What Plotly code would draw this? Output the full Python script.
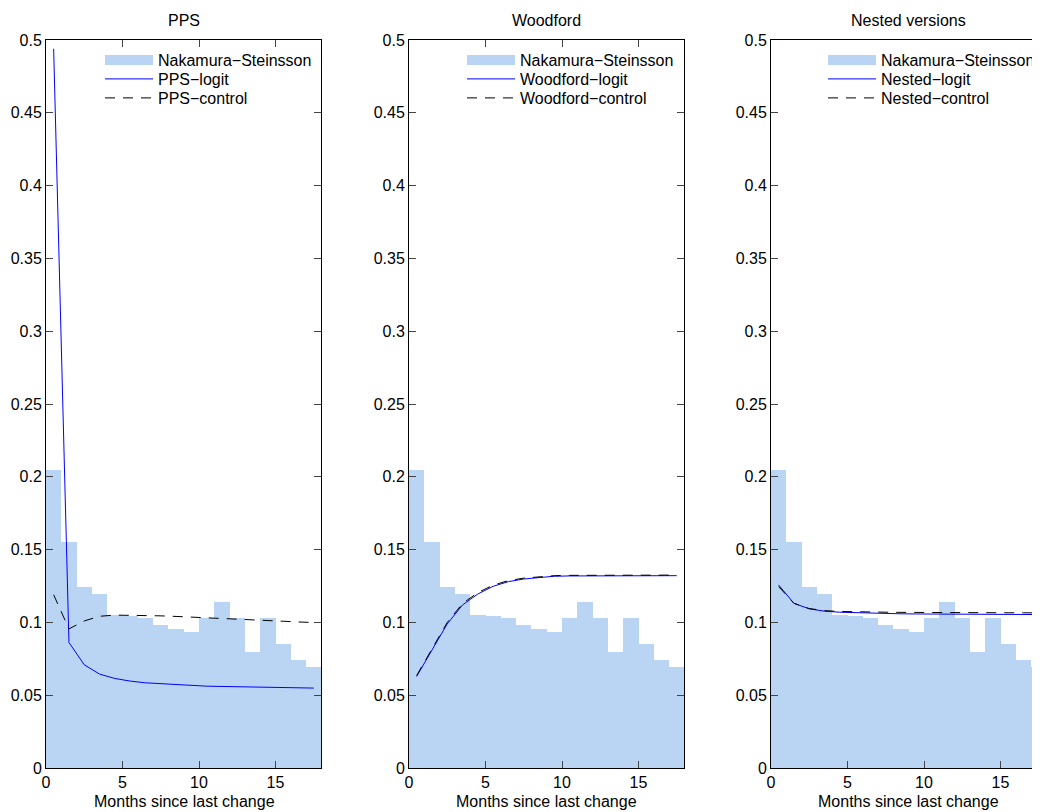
import plotly.graph_objects as go

months = [0.5, 1.5, 2.5, 3.5, 4.5, 5.5, 6.5, 7.5, 8.5, 9.5, 10.5, 11.5, 12.5, 13.5, 14.5, 15.5, 16.5, 17.5]
ns_hazard = [0.205, 0.155, 0.1246, 0.1198, 0.1051, 0.1047, 0.1029, 0.098, 0.0958, 0.0937,
             0.1029, 0.1143, 0.1029, 0.0795, 0.1029, 0.085, 0.0745, 0.0697]

pps_logit = [0.494, 0.0862, 0.0709, 0.0645, 0.0615, 0.0597, 0.0585, 0.0578, 0.0571, 0.0567,
             0.0562, 0.056, 0.0558, 0.0556, 0.0553, 0.0552, 0.0551, 0.0549]
pps_control = [0.119, 0.0955, 0.101, 0.1042, 0.105, 0.105, 0.1048, 0.1045, 0.1041, 0.1037,
               0.1032, 0.1028, 0.1024, 0.1019, 0.1013, 0.1008, 0.1003, 0.0999]

wood_logit = [0.0629, 0.0807, 0.099, 0.112, 0.1195, 0.1248, 0.128, 0.1298, 0.131, 0.1317,
              0.1319, 0.132, 0.1321, 0.1321, 0.1321, 0.1321, 0.1321, 0.1321]
wood_control = [0.0635, 0.0815, 0.1, 0.113, 0.1205, 0.1256, 0.1287, 0.1304, 0.1315, 0.1321,
                0.1323, 0.1324, 0.1325, 0.1325, 0.1325, 0.1325, 0.1325, 0.1325]

nest_logit = [0.1257, 0.1131, 0.1093, 0.1077, 0.107, 0.1066, 0.1063, 0.1061, 0.1059, 0.1058,
              0.1057, 0.1056, 0.1056, 0.1055, 0.1055, 0.1054, 0.1054, 0.1054]
nest_control = [0.1246, 0.1131, 0.1095, 0.1081, 0.1075, 0.1072, 0.1071, 0.107, 0.1069, 0.1068,
                0.1068, 0.1067, 0.1067, 0.1067, 0.1066, 0.1066, 0.1066, 0.1065]

panel_titles = ["PPS", "Woodford", "Nested versions"]
hist_name = "Nakamura\u2212Steinsson"
logit_names = ["PPS\u2212logit", "Woodford\u2212logit", "Nested\u2212logit"]
control_names = ["PPS\u2212control", "Woodford\u2212control", "Nested\u2212control"]
logit_series = [pps_logit, wood_logit, nest_logit]
control_series = [pps_control, wood_control, nest_control]
x_title = "Months since last change"

y_ticks = [0, 0.05, 0.1, 0.15, 0.2, 0.25, 0.3, 0.35, 0.4, 0.45, 0.5]
y_ticktext = ["0", "0.05", "0.1", "0.15", "0.2", "0.25", "0.3", "0.35", "0.4", "0.45", "0.5"]
x_ticks = [0, 5, 10, 15]

BAR = "#bad4f3"
FONT = "Liberation Sans, Arial, Helvetica, sans-serif"
FS = 16
DASH = "10px,8px"

# figure sits inside an 8px page margin
W, H = 1032, 804
ML, MR, MT, MB = 38, 0, 32, 44
PW = W - ML - MR
PH = H - MT - MB
px_per_unit = 15.3

def px2paper(px):
    return (px - ML) / PW

def py2paper(py):
    return 1 - (py - MT) / PH

left_px = [38, 401, 763]
domains = [[px2paper(lp), min(1.0, px2paper(lp + 18 * px_per_unit))] for lp in left_px]
xranges = [[0, 18], [0, 18], [0, (W - 763) / px_per_unit]]

legend_left_px = [92, 454, 815]
row_y = [52, 71, 90]

fig = go.Figure()
layout = dict(
    width=W, height=H,
    margin=dict(l=ML, r=MR, t=MT, b=MB, pad=0),
    paper_bgcolor="white", plot_bgcolor="white",
    font=dict(family=FONT, size=FS, color="black"),
    barmode="overlay", bargap=0,
    showlegend=True,
)

for i in range(3):
    xa = "x" if i == 0 else f"x{i+1}"
    ya = "y" if i == 0 else f"y{i+1}"
    lgs = [f"legend{3*i+k+1}" if (3*i+k) > 0 else "legend" for k in range(3)]
    fig.add_trace(go.Bar(x=months, y=ns_hazard, width=1, marker=dict(color=BAR, line=dict(width=0)),
                         showlegend=False, xaxis=xa, yaxis=ya, hoverinfo="skip"))
    fig.add_trace(go.Scatter(x=[None], y=[None], mode="lines", name=hist_name,
                             line=dict(color=BAR, width=14), xaxis=xa, yaxis=ya, legend=lgs[0]))
    fig.add_trace(go.Scatter(x=months, y=logit_series[i], mode="lines", name=logit_names[i],
                             line=dict(color="#0000ff", width=1), xaxis=xa, yaxis=ya, legend=lgs[1]))
    fig.add_trace(go.Scatter(x=months, y=control_series[i], mode="lines", name=control_names[i],
                             line=dict(color="black", width=1, dash=DASH), xaxis=xa, yaxis=ya, legend=lgs[2]))
    for k in range(3):
        layout[lgs[k]] = dict(x=px2paper(legend_left_px[i]), y=py2paper(row_y[k]),
                              xanchor="left", yanchor="middle",
                              bgcolor="rgba(0,0,0,0)", borderwidth=0, itemwidth=48,
                              font=dict(family=FONT, size=FS))

    xk = "xaxis" if i == 0 else f"xaxis{i+1}"
    yk = "yaxis" if i == 0 else f"yaxis{i+1}"
    layout[xk] = dict(domain=domains[i], range=xranges[i], tickvals=x_ticks, ticks="inside", ticklen=7,
                      showline=True, linecolor="black", linewidth=1, mirror="ticks" if i < 2 else True,
                      showgrid=False, zeroline=False, anchor=ya, tickfont=dict(size=FS))
    layout[yk] = dict(domain=[0, 1], range=[0, 0.5], tickvals=y_ticks, ticktext=y_ticktext,
                      ticks="inside", ticklen=7, showline=True, linecolor="black", linewidth=1,
                      mirror="ticks" if i < 2 else False, showgrid=False, zeroline=False,
                      anchor=xa, tickfont=dict(size=FS))

fig.update_layout(**layout)

centers_px = [176, 538.5, 900.5]
for i in range(3):
    fig.add_annotation(text=panel_titles[i], x=px2paper(centers_px[i]), y=py2paper(12),
                       xref="paper", yref="paper", showarrow=False, font=dict(size=FS),
                       xanchor="center", yanchor="middle")
    fig.add_annotation(text=x_title, x=px2paper(centers_px[i]), y=py2paper(793),
                       xref="paper", yref="paper", showarrow=False, font=dict(size=FS),
                       xanchor="center", yanchor="middle")

fig.write_html("out.html")
